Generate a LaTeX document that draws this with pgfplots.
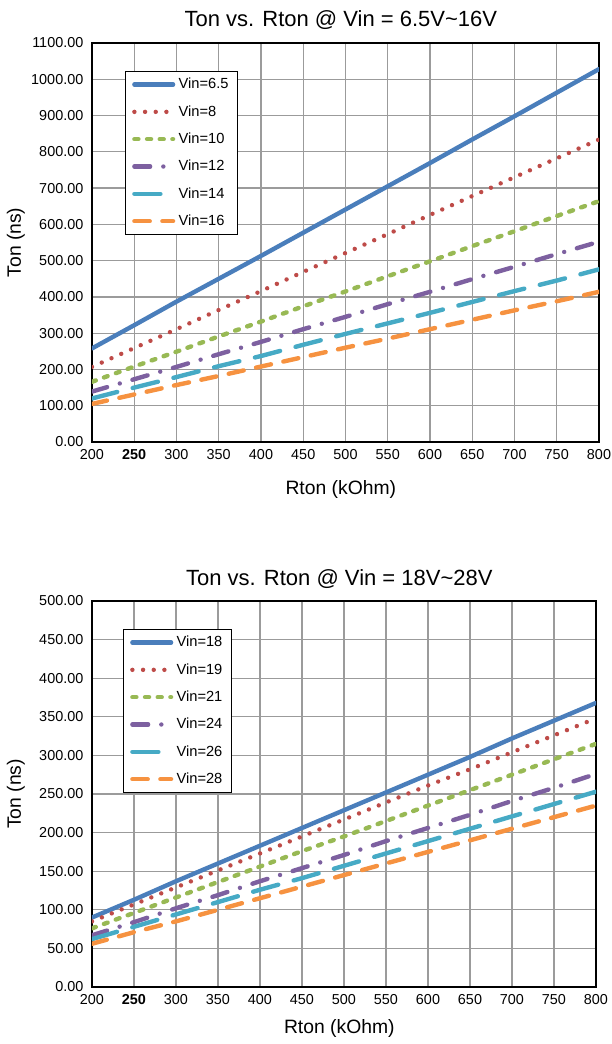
\documentclass[border=0pt]{standalone}
\usepackage{fontspec}
\setmainfont{Liberation Sans}
\usepackage{pgfplots}
\pgfplotsset{compat=1.18}
\usepackage{pgfplotstable}

\definecolor{cblue}{HTML}{4A7EBB}
\definecolor{cred}{HTML}{BE4B48}
\definecolor{cgreen}{HTML}{98B954}
\definecolor{cpurple}{HTML}{7D60A0}
\definecolor{ccyan}{HTML}{46AAC5}
\definecolor{corange}{HTML}{F69240}
\definecolor{gridgray}{RGB}{155,155,155}

% Ton (ns) vs Rton (kOhm), Vin = 6.5V ... 16V
\pgfplotstableread{
x    v65   v8   v10  v12  v14  v16
200  258   207  166  139  120  105
250  322   259  208  173  150  131
300  387   311  249  207  179  157
350  450   364  291  242  209  182
400  513   416  332  276  237  208
450  577   469  374  311  268  234
500  641   521  415  345  298  260
550  705   573  457  380  327  285
600  769   626  498  414  356  311
650  834   678  540  449  386  337
700  898   730  581  483  416  363
750  963   782  623  518  445  388
800  1028  834  664  552  476  414
}\tablelow

% Ton (ns) vs Rton (kOhm), Vin = 18V ... 28V
\pgfplotstableread{
x    v18  v19  v21  v24  v26  v28
200  90   85   76   67   62   56
250  113  107  96   84   78   71
300  137  129  116  102  94   85
350  160  151  136  119  110  100
400  183  173  156  137  126  115
450  206  195  176  154  141  130
500  229  217  195  171  157  145
550  252  239  215  189  173  160
600  275  261  235  206  189  175
650  298  282  255  223  205  190
700  322  304  275  241  221  205
750  345  326  295  258  237  220
800  368  348  315  276  253  235
}\tablehigh

\pgfplotsset{
  tonaxis/.style={
    scale only axis,
    anchor=south west,
    xmin=200, xmax=800,
    ymin=0,
    xtick={200,250,...,800},
    xticklabels={200,\textbf{250},300,350,400,450,500,550,600,650,700,750,800},
    scaled y ticks=false,
    /pgf/number format/.cd, fixed, fixed zerofill, precision=2, 1000 sep={}, assume math mode=true,
    /pgfplots/.cd,
    grid=major,
    major grid style={color=gridgray, line width=1pt},
    axis line style={line width=1.4pt},
    major tick length=0pt,
    tick label style={font=\fontsize{10.8}{12}\selectfont},
    xticklabel style={yshift=-2pt},
    yticklabel style={xshift=-3pt},
    label style={font=\fontsize{14.5}{17}\selectfont},
    title style={font=\fontsize{16.5}{19}\selectfont, at={(0.5,1)}, anchor=base, xshift=-3.5pt},
    xlabel={Rton (kOhm)},
    ylabel={Ton (ns)},
    ylabel style={at={(axis description cs:-0.15,0.5)}, anchor=center, rotate=0},
    legend cell align=left,
    legend image code/.code={\draw[##1] (0pt,0pt) -- (29pt,0pt);},
    legend style={draw=black, line width=0.8pt, fill=white, anchor=north west,
      inner xsep=5pt, inner ysep=4.5pt, row sep=10pt, column sep=1pt,
      font=\fontsize{11}{13}\selectfont,
      nodes={inner ysep=0pt, inner xsep=1.5pt, text height=8.5pt, text depth=2pt}},
  },
  s1/.style={color=cblue, line width=3.3pt, line cap=round, solid},
  s2/.style={color=cred, line width=3.3pt, line cap=round, dash pattern=on 0pt off 8pt},
  s3/.style={color=cgreen, line width=3.3pt, line cap=round, dash pattern=on 3pt off 6.5pt},
  s4/.style={color=cpurple, line width=3.3pt, line cap=round, dash pattern=on 11.8pt off 9.9pt on 0pt off 9.9pt},
  s5/.style={color=ccyan, line width=3.3pt, line cap=round, dash pattern=on 19.5pt off 12pt},
  s6/.style={color=corange, line width=3.3pt, line cap=round, dash pattern=on 11.5pt off 9.5pt},
}

\begin{document}
\begin{tikzpicture}
\useasboundingbox (-69pt,-42.75pt) rectangle (389.25pt,740.25pt);

\begin{axis}[tonaxis,
  at={(0,408.75pt)},
  width=380.25pt, height=299.25pt,
  ymax=1100, ytick={0,100,...,1100},
  title={Ton vs. Rton @ Vin = 6.5V\textasciitilde 16V},
  title style={yshift=6.2pt},
  xlabel style={at={(axis description cs:0.5,0)}, anchor=base, xshift=-3.5pt, yshift=-39.75pt},
  legend style={at={(axis description cs:0.0651,0.9298)}},
]
\addplot[s1] table[x=x, y=v65] {\tablelow};
\addlegendentry{Vin=6.5}
\addplot[s2] table[x=x, y=v8] {\tablelow};
\addlegendentry{Vin=8}
\addplot[s3] table[x=x, y=v10] {\tablelow};
\addlegendentry{Vin=10}
\addplot[s4] table[x=x, y=v12] {\tablelow};
\addlegendentry{Vin=12}
\addplot[s5] table[x=x, y=v14] {\tablelow};
\addlegendentry{Vin=14}
\addplot[s6] table[x=x, y=v16] {\tablelow};
\addlegendentry{Vin=16}
\end{axis}

\begin{axis}[tonaxis,
  at={(0,0)},
  width=378pt, height=289.5pt,
  ymax=500, ytick={0,50,...,500},
  title={Ton vs. Rton @ Vin = 18V\textasciitilde 28V},
  title style={yshift=5.5pt},
  xlabel style={at={(axis description cs:0.5,0)}, anchor=base, xshift=-3.5pt, yshift=-34.5pt},
  ylabel style={at={(axis description cs:-0.1508,0.5)}},
  legend style={at={(axis description cs:0.0615,0.9275)}},
]
\addplot[s1] table[x=x, y=v18] {\tablehigh};
\addlegendentry{Vin=18}
\addplot[s2] table[x=x, y=v19] {\tablehigh};
\addlegendentry{Vin=19}
\addplot[s3] table[x=x, y=v21] {\tablehigh};
\addlegendentry{Vin=21}
\addplot[s4] table[x=x, y=v24] {\tablehigh};
\addlegendentry{Vin=24}
\addplot[s5] table[x=x, y=v26] {\tablehigh};
\addlegendentry{Vin=26}
\addplot[s6] table[x=x, y=v28] {\tablehigh};
\addlegendentry{Vin=28}
\end{axis}
\end{tikzpicture}
\end{document}
